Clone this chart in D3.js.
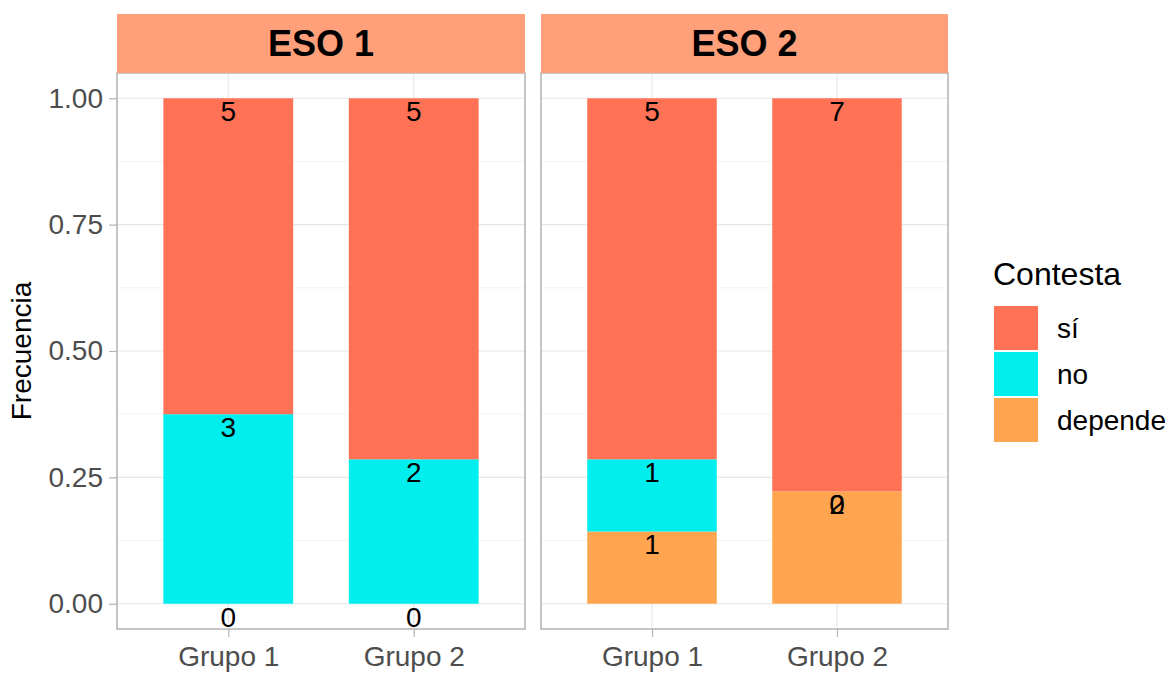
<!DOCTYPE html>
<html>
<head>
<meta charset="utf-8">
<script src="https://cdn.jsdelivr.net/npm/d3@7"></script>
<style>
  html, body { margin: 0; padding: 0; background: #fff; }
  svg { display: block; font-family: "Liberation Sans", Arial, sans-serif; }
</style>
</head>
<body>
<svg id="chart" width="1176" height="673"></svg>
<script>
// Facets, groups and answer categories
const facets = ["ESO 1", "ESO 2"];
const groups = ["Grupo 1", "Grupo 2"];
const responses = ["sí", "no", "depende"];
const colors = ["#FF7256", "#00EEEE", "#FFA54F"];

// Counts per facet (outer) and group (inner)
const countSi = [[5, 5], [5, 7]];
const countNo = [[3, 2], [1, 0]];
const countDepende = [[0, 0], [1, 2]];

const yTicks = [0, 0.25, 0.5, 0.75, 1];
const yMinor = [0.125, 0.375, 0.625, 0.875];

const svg = d3.select("#chart");

const panelTop = 73, panelBottom = 629, stripTop = 14;
const panelX = [[117, 525], [541, 948]];

const y = d3.scaleLinear().domain([-0.05, 1.05]).range([panelBottom, panelTop]);
const color = d3.scaleOrdinal().domain(responses).range(colors);

const countsByResp = { "sí": countSi, "no": countNo, "depende": countDepende };

facets.forEach((facet, fi) => {
  const [x0, x1] = panelX[fi];
  // discrete scale with 0.6 expansion on each side
  const xPos = d3.scaleLinear().domain([0.4, 2.6]).range([x0, x1]);
  const bandW = xPos(1.7) - xPos(1.0);

  const g = svg.append("g");

  // minor grid
  g.selectAll(".minor").data(yMinor).enter().append("line")
    .attr("x1", x0).attr("x2", x1)
    .attr("y1", d => y(d)).attr("y2", d => y(d))
    .attr("stroke", "#F3F3F3").attr("stroke-width", 1);
  // major grid
  g.selectAll(".major").data(yTicks).enter().append("line")
    .attr("x1", x0).attr("x2", x1)
    .attr("y1", d => y(d)).attr("y2", d => y(d))
    .attr("stroke", "#E6E6E6").attr("stroke-width", 1.2);
  g.selectAll(".vmajor").data(groups).enter().append("line")
    .attr("x1", (d, i) => xPos(i + 1)).attr("x2", (d, i) => xPos(i + 1))
    .attr("y1", panelTop).attr("y2", panelBottom)
    .attr("stroke", "#E6E6E6").attr("stroke-width", 1.2);

  // stacked bars (depende at bottom, then no, then sí)
  const labels = [];
  groups.forEach((grp, gi) => {
    const total = responses.reduce((s, r) => s + countsByResp[r][fi][gi], 0);
    let cum = 0;
    const stackOrder = ["depende", "no", "sí"];
    const segs = stackOrder.map(r => {
      const v = countsByResp[r][fi][gi] / total;
      const seg = { r, lo: cum, hi: cum + v, n: countsByResp[r][fi][gi] };
      cum += v;
      return seg;
    });
    segs.forEach(s => {
      if (s.hi - s.lo > 0) {
        g.append("rect")
          .attr("x", xPos(gi + 1) - bandW / 2)
          .attr("width", bandW)
          .attr("y", y(s.hi))
          .attr("height", y(s.lo) - y(s.hi))
          .attr("fill", color(s.r));
      }
    });
    // labels in data order (sí, no, depende), placed at the top of each segment
    responses.forEach(r => {
      const s = segs.find(d => d.r === r);
      labels.push({ x: xPos(gi + 1), y: y(s.hi), n: s.n });
    });
  });

  g.selectAll(".lab").data(labels).enter().append("text")
    .attr("x", d => d.x).attr("y", d => d.y)
    .attr("dy", "0.82em")
    .attr("text-anchor", "middle")
    .attr("font-size", 28)
    .attr("fill", "#000")
    .text(d => d.n);

  // panel border
  g.append("rect")
    .attr("x", x0).attr("y", panelTop)
    .attr("width", x1 - x0).attr("height", panelBottom - panelTop)
    .attr("fill", "none").attr("stroke", "#B3B3B3").attr("stroke-width", 1.5);

  // strip
  g.append("rect")
    .attr("x", x0).attr("y", stripTop)
    .attr("width", x1 - x0).attr("height", panelTop - stripTop)
    .attr("fill", "#FFA07A");
  g.append("text")
    .attr("x", (x0 + x1) / 2).attr("y", (stripTop + panelTop) / 2)
    .attr("dy", "0.36em")
    .attr("text-anchor", "middle")
    .attr("font-size", 36).attr("font-weight", "bold")
    .attr("fill", "#000")
    .text(facet);

  // x axis
  const xAxis = d3.axisBottom(d3.scalePoint().domain(groups).range([xPos(1), xPos(2)]))
    .tickSize(8).tickPadding(9);
  const ax = g.append("g").attr("transform", `translate(0,${panelBottom})`).call(xAxis);
  ax.select(".domain").remove();
  ax.selectAll("line").attr("stroke", "#B3B3B3").attr("stroke-width", 1.2);
  ax.selectAll("text").attr("font-size", 28).attr("fill", "#4D4D4D")
    .attr("font-family", "Liberation Sans, Arial, sans-serif");

  if (fi === 0) {
    const yAxis = d3.axisLeft(y).tickValues(yTicks).tickFormat(d3.format(".2f"))
      .tickSize(8).tickPadding(6);
    const ay = g.append("g").attr("transform", `translate(${x0},0)`).call(yAxis);
    ay.select(".domain").remove();
    ay.selectAll("line").attr("stroke", "#B3B3B3").attr("stroke-width", 1.2);
    ay.selectAll("text").attr("font-size", 28).attr("fill", "#4D4D4D")
      .attr("font-family", "Liberation Sans, Arial, sans-serif");
  }
});

// y axis title
svg.append("text")
  .attr("transform", `translate(31,${(panelTop + panelBottom) / 2}) rotate(-90)`)
  .attr("text-anchor", "middle")
  .attr("font-size", 28)
  .attr("fill", "#000")
  .text("Frecuencia");

// legend
const legend = svg.append("g");
legend.append("text")
  .attr("x", 993).attr("y", 285)
  .attr("font-size", 32).attr("fill", "#000")
  .text("Contesta");
const keyTop = 306, keyStep = 46, keySize = 44;
responses.forEach((r, i) => {
  legend.append("rect")
    .attr("x", 994).attr("y", keyTop + i * keyStep)
    .attr("width", keySize).attr("height", keySize)
    .attr("fill", color(r));
  legend.append("text")
    .attr("x", 1057).attr("y", keyTop + i * keyStep + keySize / 2)
    .attr("dy", "0.36em")
    .attr("font-size", 28).attr("fill", "#000")
    .text(r);
});
</script>
</body>
</html>
